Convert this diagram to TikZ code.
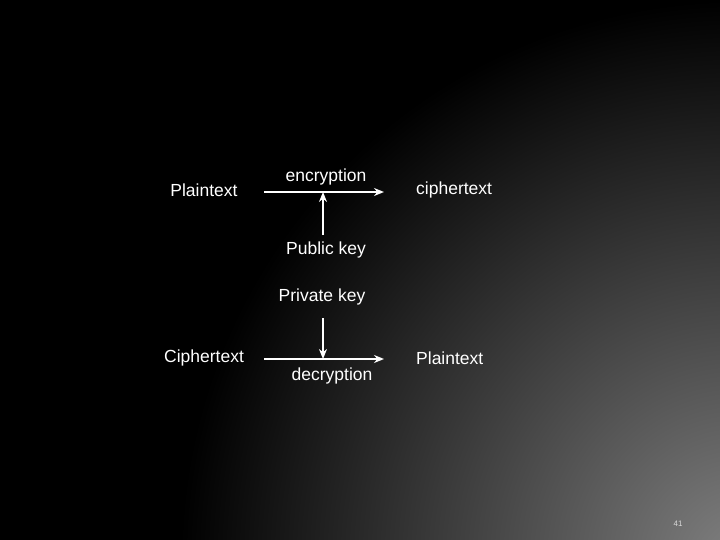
\documentclass[tikz,border=0pt]{standalone}
\usepackage{fontspec}
\setmainfont{Liberation Sans}
\usepackage{xcolor}
\usetikzlibrary{calc, positioning, arrows.meta}

\begin{document}
\begin{tikzpicture}[x=1pt, y=-1pt, >={Stealth[length=10pt, width=8pt]},
    txt/.style={text=white, font=\fontsize{17.5}{20}\selectfont, inner sep=0pt},
    flow/.style={->, white, line width=1.8pt}]

    % =================================================================
    % NỀN
    % =================================================================
    \useasboundingbox (0,0) rectangle (720,540);
    \fill[black] (0,0) rectangle (720,540);
    \begin{scope}
        \clip (0,0) rectangle (720,540);
        \shade[inner color=black!50!white, outer color=black] (740,560) circle (560);
    \end{scope}

    % =================================================================
    % MÃ HÓA
    % =================================================================
    \coordinate (E_start) at (264,192);
    \coordinate (E_end) at (384,192);
    \coordinate (E_mid) at (323,192);

    \node[txt] (plain) at (204,190) {Plaintext};
    \node[txt] (enc) at (326,177) {encryption};
    \node[txt, anchor=west] (cipher) at (416,190) {ciphertext};
    \node[txt] (pubkey) at (326,250) {Public key};

    \draw[flow] (E_start) -- (E_end);
    \draw[flow] (323,235) -- (E_mid);

    % =================================================================
    % GIẢI MÃ
    % =================================================================
    \coordinate (D_start) at (264,359);
    \coordinate (D_end) at (384,359);
    \coordinate (D_mid) at (323,359);
    \coordinate (D_top) at (323,318);

    \node[txt] (privkey) at (322,297) {Private key};
    \node[txt] (cipher2) at (204,358) {Ciphertext};
    \node[txt] (dec) at (332,376) {decryption};
    \node[txt, anchor=west] (plain2) at (416,358) {Plaintext};

    \draw[flow] (D_start) -- (D_end);
    \draw[flow] (D_top) -- (D_mid);

    % Số trang
    \node[text=white!85!black, font=\fontsize{8}{9}\selectfont] (page) at (678,524) {41};

\end{tikzpicture}
\end{document}
